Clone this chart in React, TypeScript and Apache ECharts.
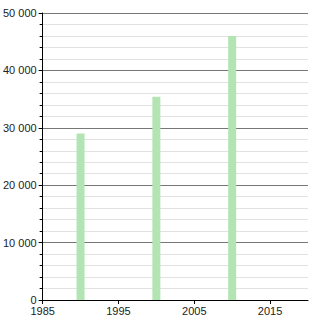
import React, { useEffect, useRef } from "react";
import * as echarts from "echarts";

const years = [1990, 2000, 2010];
const values = [29000, 35400, 46000];
const xTicks = [1985, 1995, 2005, 2015];

export default function App() {
  const ref = useRef<HTMLDivElement>(null);
  useEffect(() => {
    const chart = echarts.init(ref.current!, null, { renderer: "svg" });
    chart.setOption({
      animation: false,
      grid: { left: 42, right: 12, top: 13, bottom: 20, containLabel: false },
      xAxis: {
        type: "value",
        min: 1985,
        max: 2020,
        interval: 10,
        axisLine: { show: true, lineStyle: { color: "#000", width: 1 } },
        axisTick: { show: true, length: 4, lineStyle: { color: "#000" } },
        axisLabel: {
          showMaxLabel: false,
          color: "#222",
          fontFamily: "Liberation Sans, Arial, sans-serif",
          fontSize: 11,
          margin: 5,
          formatter: (v: number) => (xTicks.includes(v) ? String(v) : ""),
        },
        splitLine: { show: false },
      },
      yAxis: {
        type: "value",
        min: 0,
        max: 50000,
        interval: 10000,
        axisLine: { show: true, lineStyle: { color: "#000", width: 1 } },
        axisTick: { show: true, length: 4, lineStyle: { color: "#000" } },
        minorTick: { show: true, splitNumber: 5, length: 3, lineStyle: { color: "#000" } },
        axisLabel: {
          color: "#222",
          fontFamily: "Liberation Sans, Arial, sans-serif",
          fontSize: 11,
          margin: 6,
          formatter: (v: number) => String(v).replace(/\B(?=(\d{3})+(?!\d))/g, " "),
        },
        splitLine: { show: true, lineStyle: { color: "#777", width: 1 } },
        minorSplitLine: { show: true, lineStyle: { color: "#e2e2e2", width: 1 } },
      },
      series: [
        {
          type: "bar",
          data: years.map((y, i) => [y, values[i]]),
          barWidth: 8,
          itemStyle: { color: "#b3e5b3" },
        },
      ],
    });
    return () => chart.dispose();
  }, []);
  return <div ref={ref} style={{ width: 320, height: 320, position: "absolute", left: 0, top: 0 }} />;
}
